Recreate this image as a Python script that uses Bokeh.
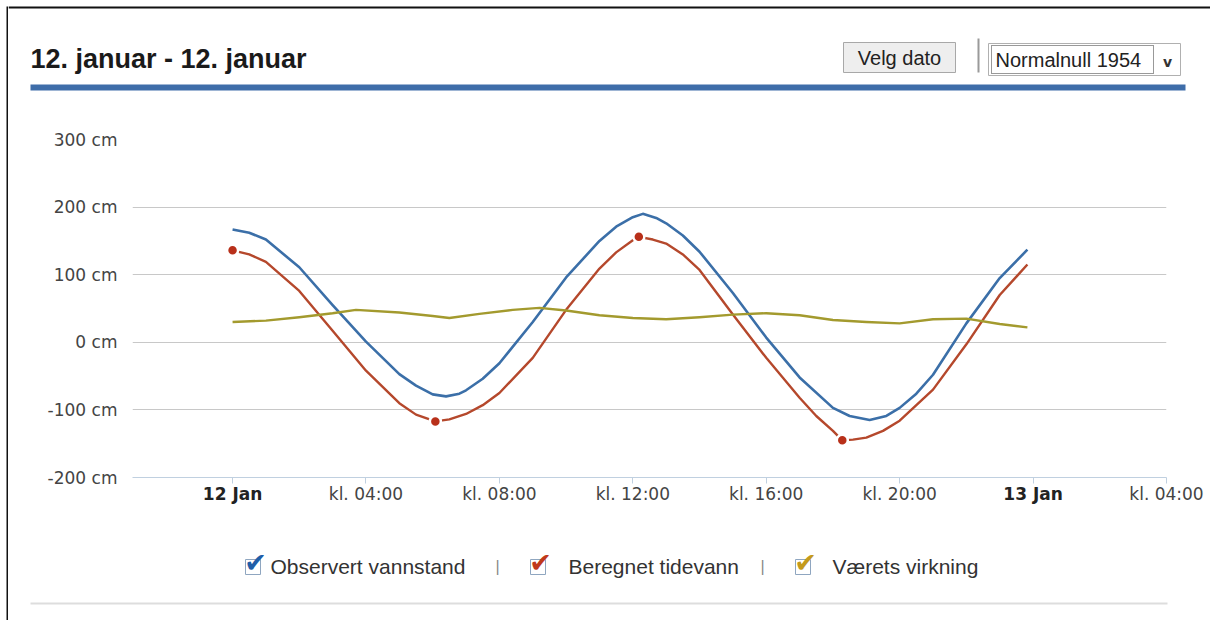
from bokeh.plotting import figure
from bokeh.models import Range1d, FixedTicker, LinearAxis
from bokeh.layouts import row, column
from bokeh.core.properties import value
from bokeh.embed import file_html
from bokeh.resources import INLINE

# ---------------- data (hours after 12 Jan 00:00, cm) ----------------
obs_hours = [0, 0.5, 1, 2, 3, 4, 5, 5.5, 6, 6.4, 6.8, 7, 7.5, 8, 9, 10, 11, 11.5, 12, 12.3, 12.7, 13, 13.5, 14, 15, 16, 17, 18, 18.5, 19.1, 19.6, 20, 20.5, 21, 22, 23, 23.83]
obs_cm = [167, 162, 152, 111, 55, 1, -47, -64, -77, -80, -76, -71, -54, -31, 30, 96, 150, 171, 185, 190, 184, 176, 158, 134, 73, 7, -52, -97, -109, -115, -109, -97, -76, -48, 28, 95, 137]

pred_hours = [0, 0.5, 1, 2, 3, 4, 5, 5.5, 6.08, 6.5, 7, 7.5, 8, 9, 10, 11, 11.5, 12, 12.18, 12.6, 13, 13.5, 14, 15, 16, 17, 17.5, 18, 18.28, 18.6, 19, 19.5, 20, 21, 22, 23, 23.83]
pred_cm = [136, 130, 119, 76, 17, -42, -90, -107, -117, -114, -106, -93, -75, -23, 48, 109, 133, 151, 156, 152, 146, 130, 107, 41, -23, -82, -109, -131, -145, -144, -141, -131, -116, -70, -3, 70, 115]

wx_hours = [0, 1, 2, 3, 3.7, 5, 6, 6.5, 7.4, 8.4, 9.2, 10, 11, 12, 13, 14, 15, 16, 17, 18, 19, 20, 21, 22, 23, 23.83]
wx_cm = [30, 32, 37, 43, 48, 44, 39, 36, 42, 48, 51, 47, 40, 36, 34, 37, 41, 43, 40, 33, 30, 28, 34, 35, 27, 22]

ext_hours = [0, 6.08, 12.18, 18.28]
ext_cm = [136, -117, 156, -145]

y_ticks = [-200, -100, 0, 100, 200, 300]
y_labels = ["-200 cm", "-100 cm", "0 cm", "100 cm", "200 cm", "300 cm"]
x_ticks = [0, 4, 8, 12, 16, 20, 24, 28]
x_labels = ["12 Jan", "kl. 04:00", "kl. 08:00", "kl. 12:00", "kl. 16:00", "kl. 20:00", "13 Jan", "kl. 04:00"]
x_bold = [True, False, False, False, False, False, True, False]

title_text = "12. januar - 12. januar"
series_names = ["Observert vannstand", "Beregnet tidevann", "Værets virkning"]

C_OBS = "#3b6fa8"
C_PRED = "#b5482c"
C_WX = "#a39a2e"
C_DOT = "#b8301a"

# ---------------- geometry (page pixels) ----------------
TOTAL_W, TOTAL_H = 1210, 620
STRIP_W = 8
COL_W = TOTAL_W - STRIP_W
HEAD_H = 125
MAIN_TOP, MAIN_BOT = 125, 512
FL, FR, FT, FB = 132.0, 1166.0, 139.0, 477.0
X_START, X_END = -3, 28


def hx(px):
    return X_START + (px - FL) * (X_END - X_START) / (FR - FL)


def bare(fig):
    fig.axis.visible = False
    fig.grid.visible = False
    fig.outline_line_color = None
    fig.min_border = 0
    fig.background_fill_color = "white"
    fig.border_fill_color = "white"
    fig.frame_align = False
    return fig


# ---------------- left frame strip ----------------
strip = bare(figure(width=STRIP_W, height=TOTAL_H, x_range=Range1d(0, STRIP_W), y_range=Range1d(TOTAL_H, 0),
                    output_backend="svg", toolbar_location=None))
strip.quad(left=[6], right=[8], top=[6], bottom=[TOTAL_H], fill_color="#111111", line_color=None)

# ---------------- header ----------------
head = bare(figure(width=COL_W, height=HEAD_H, x_range=Range1d(STRIP_W, TOTAL_W), y_range=Range1d(HEAD_H, 0),
                   output_backend="svg", toolbar_location=None))
head.quad(left=[STRIP_W], right=[TOTAL_W], top=[6], bottom=[8], fill_color="#111111", line_color=None)
head.text(x=[30], y=[58], text=[title_text], text_font=value("Liberation Sans"), text_font_style="bold",
          text_font_size="27px", text_color="#1a1a1a", text_baseline="middle", text_align="left")
head.quad(left=[30], right=[1185], top=[84], bottom=[90], fill_color="#3e6da9", line_color=None)
# "Velg dato" button
head.quad(left=[843], right=[955], top=[42], bottom=[72], fill_color="#eeeeee", line_color="#a8a8a8")
head.text(x=[899], y=[57], text=["Velg dato"], text_font=value("Liberation Sans"), text_font_size="20px",
          text_color="#222222", text_baseline="middle", text_align="center")
head.quad(left=[977], right=[979], top=[38], bottom=[72], fill_color="#9a9a9a", line_color=None)
# datum select
head.quad(left=[988], right=[1180], top=[43], bottom=[75], fill_color="white", line_color="#b0b0b0")
head.quad(left=[991], right=[1153], top=[45], bottom=[73], fill_alpha=0, line_color="#333333", line_dash="1 1")
head.text(x=[995], y=[59], text=["Normalnull 1954"], text_font=value("Liberation Sans"), text_font_size="20px",
          text_color="#222222", text_baseline="middle", text_align="left")
head.text(x=[1167], y=[61], text=["v"], text_font=value("DejaVu Sans"), text_font_style="bold",
          text_font_size="14px", text_color="#333333", text_baseline="middle", text_align="center")

# ---------------- main chart ----------------
MAIN_H = MAIN_BOT - MAIN_TOP
p = figure(width=COL_W, height=MAIN_H, x_range=Range1d(X_START, X_END), y_range=Range1d(-200, 300),
           output_backend="svg", toolbar_location=None,
           min_border_left=int(FL - STRIP_W), min_border_right=int(TOTAL_W - FR),
           min_border_top=int(FT - MAIN_TOP), min_border_bottom=int(MAIN_BOT - FB))
p.frame_align = False
p.outline_line_color = None
p.background_fill_color = "white"
p.border_fill_color = "white"

p.xgrid.visible = False
p.ygrid.grid_line_color = "#c8c8c8"
p.ygrid.grid_line_width = 1
p.ygrid.ticker = FixedTicker(ticks=y_ticks)

p.yaxis.ticker = FixedTicker(ticks=y_ticks)
p.yaxis.major_label_overrides = {t: l for t, l in zip(y_ticks, y_labels)}
p.yaxis.axis_line_color = None
p.yaxis.major_tick_line_color = None
p.yaxis.minor_tick_line_color = None
p.yaxis.major_tick_out = 0
p.yaxis.major_tick_in = 0
p.yaxis.major_label_standoff = 15
p.yaxis.major_label_text_font = "DejaVu Sans"
p.yaxis.major_label_text_font_size = "17px"
p.yaxis.major_label_text_color = "#444444"

# first x axis: all tick marks, bold date labels
xa = p.xaxis[0]
xa.ticker = FixedTicker(ticks=x_ticks)
xa.major_label_overrides = {t: (l if b else "") for t, l, b in zip(x_ticks, x_labels, x_bold)}
xa.major_label_text_font = "DejaVu Sans"
xa.major_label_text_font_style = "bold"
xa.major_label_text_font_size = "17px"
xa.major_label_text_color = "#222222"
xa.major_label_standoff = 0
xa.axis_line_color = "#c0d0e0"
xa.major_tick_line_color = "#c0d0e0"
xa.minor_tick_line_color = None
xa.major_tick_out = 6
xa.major_tick_in = 0

# second x axis: time-of-day labels, pulled up onto the same line
norm_t = [t for t, b in zip(x_ticks, x_bold) if not b]
norm_l = [l for l, b in zip(x_labels, x_bold) if not b]
xb = LinearAxis(ticker=FixedTicker(ticks=norm_t),
                major_label_overrides={t: l for t, l in zip(norm_t, norm_l)})
xb.major_label_text_font = "DejaVu Sans"
xb.major_label_text_font_size = "17px"
xb.major_label_text_color = "#444444"
xb.axis_line_color = None
xb.major_tick_line_color = None
xb.minor_tick_line_color = None
xb.major_tick_out = 0
xb.major_tick_in = 0
xb.major_label_standoff = -23
p.add_layout(xb, "below")

p.line(obs_hours, obs_cm, line_color=C_OBS, line_width=2.6, line_join="round")
p.line(pred_hours, pred_cm, line_color=C_PRED, line_width=2.4, line_join="round")
p.line(wx_hours, wx_cm, line_color=C_WX, line_width=2.4, line_join="round")
p.scatter(ext_hours, ext_cm, size=11, fill_color=C_DOT, line_color="white", line_width=2.5)

# ---------------- footer: legend ----------------
FOOT_H = TOTAL_H - MAIN_BOT
foot = bare(figure(width=COL_W, height=FOOT_H, x_range=Range1d(hx(STRIP_W), hx(TOTAL_W)),
                   y_range=Range1d(TOTAL_H, MAIN_BOT), output_backend="svg", toolbar_location=None))

leg_box_px = [245, 530, 795]
leg_text_px = [270, 568, 832]
leg_check_col = ["#1f5ea8", "#c0391b", "#c49a1c"]
sep_px = [497, 762]
foot.quad(left=[hx(b) for b in leg_box_px], right=[hx(b + 15) for b in leg_box_px],
          top=[559] * 3, bottom=[574] * 3, fill_color="white", line_color="#8fa6c0")
foot.text(x=[hx(b + 10) for b in leg_box_px], y=[562] * 3, text=["\u2714"] * 3, text_font=value("DejaVu Sans"),
          text_font_size="27px", text_color=leg_check_col, text_baseline="middle", text_align="center")
foot.text(x=[hx(t) for t in leg_text_px], y=[566] * 3, text=series_names, text_font=value("Liberation Sans"),
          text_font_size="21px", text_color="#333333", text_baseline="middle", text_align="left")
foot.text(x=[hx(s) for s in sep_px], y=[566] * 2, text=["|"] * 2, text_font=value("Liberation Sans"),
          text_font_size="16px", text_color="#888888", text_baseline="middle", text_align="center")
foot.quad(left=[hx(30)], right=[hx(1167)], top=[602], bottom=[604], fill_color="#dddddd", line_color=None)

layout = row(strip, column(head, p, foot))
open("out.html", "w").write(file_html(layout, INLINE))
